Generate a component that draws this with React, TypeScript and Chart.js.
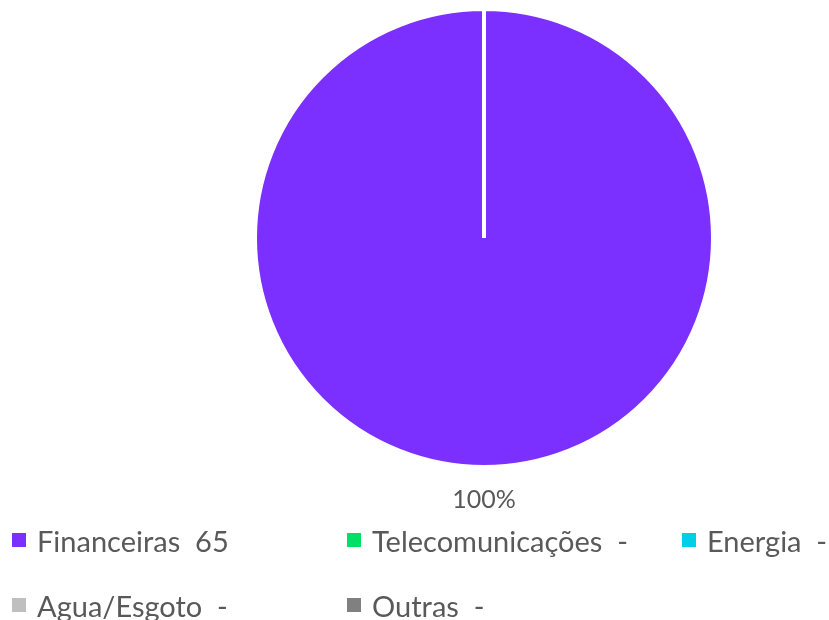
import React, { useEffect, useRef } from "react";
import { Chart, registerables } from "chart.js";

Chart.register(...registerables);

const categories = ["Financeiras", "Telecomunicações", "Energia", "Agua/Esgoto", "Outras"];
const values = [65, 0, 0, 0, 0];
const colors = ["#7B30FF", "#00E064", "#00CFE8", "#BFBFBF", "#808080"];

const FONT = "Lato, 'Open Sans', sans-serif";
const TEXT = "#595959";

const pctLabelPlugin = {
  id: "pctLabel",
  afterDatasetsDraw(chart: any) {
    const ctx = chart.ctx;
    const meta = chart.getDatasetMeta(0);
    const total = values.reduce((a, b) => a + b, 0);
    meta.data.forEach((arc: any, i: number) => {
      const v = values[i];
      if (!v) return;
      const p = arc.getProps(["x", "y", "startAngle", "endAngle", "outerRadius"], true);
      const mid = (p.startAngle + p.endAngle) / 2;
      const r = p.outerRadius + 33;
      const x = p.x + Math.cos(mid) * r;
      const y = p.y + Math.sin(mid) * r;
      ctx.save();
      ctx.font = `25px ${FONT}`;
      ctx.fillStyle = TEXT;
      ctx.textAlign = "center";
      ctx.textBaseline = "middle";
      ctx.fillText(`${Math.round((v / total) * 100)}%`, x, y);
      ctx.restore();
    });
  },
};

export default function App() {
  const ref = useRef<HTMLCanvasElement>(null);
  useEffect(() => {
    document.body.style.margin = "0";
    const chart = new Chart(ref.current!, {
      type: "pie",
      data: {
        labels: categories,
        datasets: [
          {
            data: values,
            backgroundColor: colors,
            borderColor: "#FFFFFF",
            borderWidth: 4,
          },
        ],
      },
      options: {
        animation: false,
        responsive: false,
        maintainAspectRatio: false,
        layout: { padding: { left: 253, right: 114, top: 7, bottom: 151 } },
        plugins: { legend: { display: false }, tooltip: { enabled: false } },
      },
      plugins: [pctLabelPlugin],
    });
    return () => chart.destroy();
  }, []);

  const cols = [12, 347, 682];
  const rows = [540, 605];

  return (
    <div style={{ position: "relative", width: 829, height: 620, background: "#fff", overflow: "hidden" }}>
      <canvas ref={ref} width={829} height={620} style={{ position: "absolute", left: 0, top: 0 }} />
      {categories.map((c, i) => {
        const col = i % 3;
        const row = Math.floor(i / 3);
        return (
          <div
            key={c}
            style={{
              position: "absolute",
              left: cols[col],
              top: rows[row] - 20,
              height: 40,
              display: "flex",
              alignItems: "center",
              fontFamily: FONT,
              fontSize: 29,
              color: TEXT,
              whiteSpace: "pre",
            }}
          >
            <span style={{ width: 14, height: 14, background: colors[i], display: "inline-block", marginRight: 11, flex: "none" }} />
            <span>{`${c}  ${values[i] ? values[i] : "-"}`}</span>
          </div>
        );
      })}
    </div>
  );
}
